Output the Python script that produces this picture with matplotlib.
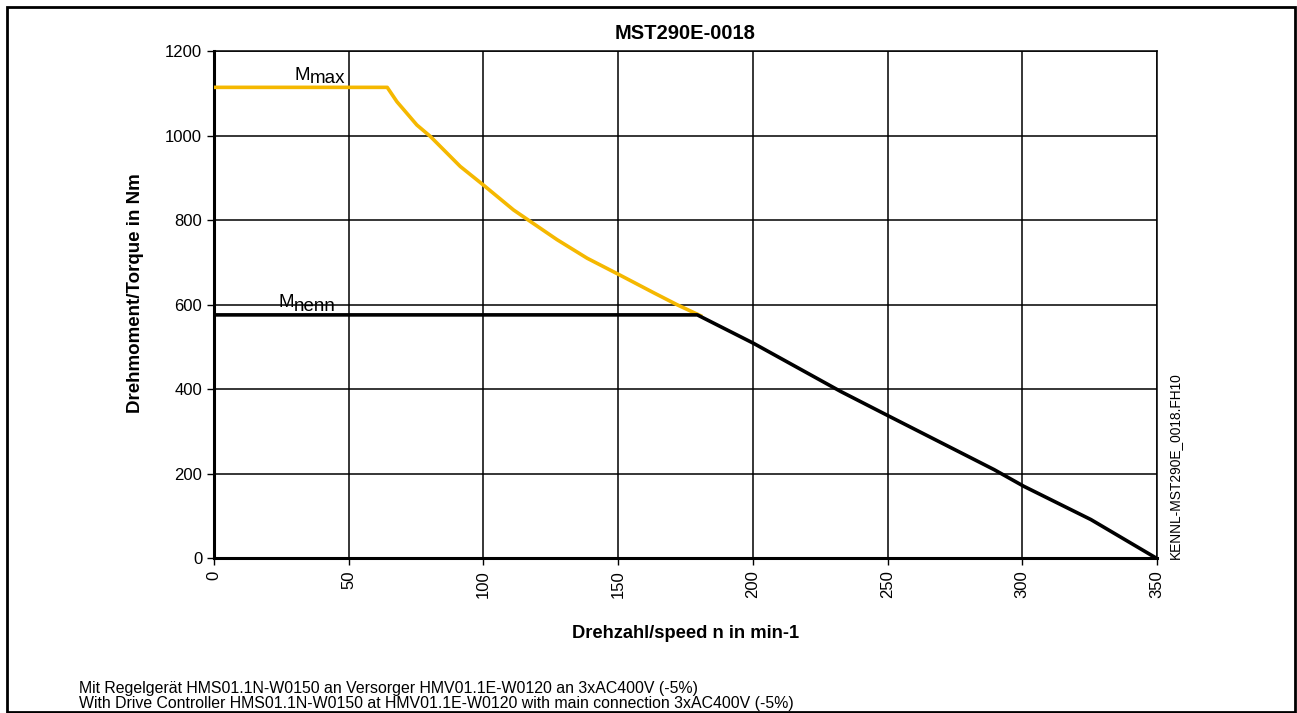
import matplotlib
matplotlib.use("Agg")
import matplotlib.pyplot as plt
from matplotlib.patches import Rectangle
from matplotlib.transforms import offset_copy

plt.rcParams['font.family'] = ['Liberation Sans', 'DejaVu Sans']

# Mmax curve (yellow)
mmax_speed = [0, 64.3, 67.9, 75.3, 80.3, 91.4, 100, 111.2, 117.4, 127.3,
              138.5, 150.4, 163.3, 171.9, 180.6]
mmax_torque = [1114, 1114, 1080, 1025, 998, 927, 883, 824, 797, 754,
               710, 671, 628, 600, 574]

# Mnenn curve (black)
mnenn_speed = [0, 179.4, 200.2, 232.6, 250.7, 289.6, 300.5, 325.5, 350]
mnenn_torque = [576, 576, 509, 395, 336, 210, 171, 92, 0]

xticks = [0, 50, 100, 150, 200, 250, 300, 350]
yticks = [0, 200, 400, 600, 800, 1000, 1200]

fig = plt.figure(figsize=(12.97, 7.13), dpi=100)
ax = fig.add_axes([0.165, 0.2167, 0.727, 0.7118])

ax.plot(mmax_speed, mmax_torque, color='#F5B800', lw=2.6, zorder=3)
ax.plot(mnenn_speed, mnenn_torque, color='black', lw=2.6, zorder=4)

ax.set_xlim(0, 350)
ax.set_ylim(0, 1200)
ax.set_xticks(xticks)
ax.set_yticks(yticks)
ax.set_xticklabels([str(v) for v in xticks], rotation=90, fontsize=12)
ax.set_yticklabels([str(v) for v in yticks], fontsize=12)
ax.tick_params(direction='out', length=5, width=1, color='black')
ax.grid(True, color='black', lw=1.1)
ax.set_axisbelow(True)
for side in ['top', 'right']:
    ax.spines[side].set_linewidth(1.1)
for side in ['left', 'bottom']:
    ax.spines[side].set_linewidth(2.2)

# curve labels: "M" followed by a full-size, slightly lowered index
ax.text(29.7, 1131, 'M', fontsize=13.5, va='baseline')
ax.text(35.4, 1131, 'max', fontsize=13.5, va='baseline',
        transform=offset_copy(ax.transData, fig=fig, y=-3, units='dots'))
ax.text(23.8, 595, 'M', fontsize=13.5, va='baseline')
ax.text(29.5, 595, 'nenn', fontsize=13.5, va='baseline',
        transform=offset_copy(ax.transData, fig=fig, y=-4, units='dots'))

fig.text(0.5285, 0.9537, 'MST290E-0018', ha='center', va='center',
         fontsize=14.5, fontweight='bold')
fig.text(0.1048, 0.589, 'Drehmoment/Torque in Nm', rotation=90, ha='center',
         va='center', fontsize=13.5, fontweight='bold')
fig.text(0.5285, 0.1122, 'Drehzahl/speed n in min-1', ha='center', va='center',
         fontsize=13.2, fontweight='bold')
fig.text(0.906, 0.216, 'KENNL-MST290E_0018.FH10', rotation=90, ha='center',
         va='bottom', fontsize=9.9)
fig.text(0.061, 0.0337,
         'Mit Regelgerät HMS01.1N-W0150 an Versorger HMV01.1E-W0120 an 3xAC400V (-5%)',
         ha='left', va='center', fontsize=11.4)
fig.text(0.061, 0.0140,
         'With Drive Controller HMS01.1N-W0150 at HMV01.1E-W0120 with main connection 3xAC400V (-5%)',
         ha='left', va='center', fontsize=11.4)

fig.patches.append(Rectangle((0.0054, 0.0014), 0.993, 0.9888, transform=fig.transFigure,
                             fill=False, edgecolor='black', lw=2))

fig.savefig('out.png', dpi=100)
